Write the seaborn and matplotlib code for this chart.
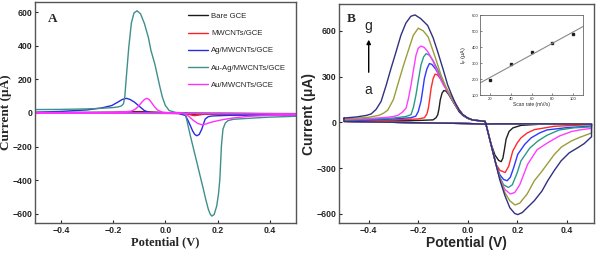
import numpy as np
import pandas as pd
import matplotlib.pyplot as plt
import seaborn as sns

sns.set_style("ticks")
plt.rcParams["font.family"] = ["Liberation Sans", "DejaVu Sans"]

# ---------------- panel A: CVs on the different electrodes ----------------
# each curve: sweep -0.5 -> 0.5 V, then back to -0.5 V
bare_E = [-0.5, -0.3, -0.2, -0.15, -0.12, -0.1, -0.08, -0.05, 0.0, 0.07, 0.09, 0.11, 0.12, 0.13, 0.15, 0.2, 0.3, 0.5,
          0.5, 0.2, 0.0, -0.2, -0.5, -0.5]
bare_I = [2, 3, 4, 5, 7, 8, 7, 5, 2, 0, -5, -10, -12, -10, -6, -4, -4, -6,
          -4, -3, -2, -1, 0, 2]

mwcnt_E = [-0.5, -0.3, -0.15, -0.1, -0.05, 0.0, 0.07, 0.09, 0.105, 0.115, 0.13, 0.16, 0.2, 0.3, 0.5,
           0.5, 0.2, 0.0, -0.2, -0.5, -0.5]
mwcnt_I = [-1, 0, 2, 4, 3, 1, -2, -8, -15, -16, -11, -7, -6, -6, -8,
           -5, -4, -3, -2, -2, -1]

ag_E = [-0.5, -0.4, -0.3, -0.243, -0.205, -0.18, -0.165, -0.149, -0.135, -0.118, -0.1, -0.08, -0.055, -0.03, 0.0,
        0.05, 0.077, 0.087, 0.096, 0.105, 0.113, 0.121, 0.13, 0.14, 0.147, 0.153, 0.165, 0.18, 0.25, 0.5,
        0.5, 0.2, 0.0, -0.2, -0.5, -0.5]
ag_I = [4, 9, 18, 30, 44, 66, 80, 87, 80, 64, 40, 14, 0, -2, -2,
        -3, -15, -45, -76, -108, -128, -136, -128, -96, -62, -36, -22, -18, -14, -13,
        -6, -4, -2, -1, 0, 4]

auag_E = [-0.5, -0.4, -0.3, -0.25, -0.2, -0.18, -0.168, -0.16, -0.155, -0.15, -0.14, -0.13, -0.12, -0.108,
          -0.095, -0.08, -0.065, -0.055, -0.04, -0.029, -0.02, -0.011, 0.0, 0.015, 0.04, 0.07,
          0.077, 0.085, 0.096, 0.11, 0.121, 0.135, 0.146, 0.155, 0.165, 0.172, 0.178, 0.187, 0.197,
          0.204, 0.209, 0.215, 0.221, 0.23, 0.24, 0.26, 0.32, 0.4, 0.5,
          0.5, 0.2, 0.0, -0.2, -0.5, -0.5]
auag_I = [20, 21, 24, 27, 32, 36, 42, 55, 100, 200, 390, 535, 595, 608,
          590, 532, 450, 372, 290, 213, 150, 93, 45, 14, 3, 0,
          -6, -60, -136, -225, -295, -385, -455, -515, -574, -602, -614, -605, -554,
          -480, -395, -196, -96, -60, -46, -38, -32, -25, -20,
          -5, -3, 0, 2, 3, 20]

au_E = [-0.5, -0.3, -0.2, -0.15, -0.13, -0.115, -0.105, -0.09, -0.08, -0.071, -0.062, -0.052, -0.042, -0.03,
        -0.011, 0.0, 0.05, 0.075, 0.09, 0.108, 0.125, 0.14, 0.155, 0.17, 0.184, 0.22, 0.26, 0.32, 0.4, 0.5,
        0.5, 0.2, 0.0, -0.2, -0.5, -0.5]
au_I = [0, 2, 4, 7, 11, 22, 36, 64, 80, 87, 80, 60, 38, 18,
        4, 2, 0, -5, -20, -45, -63, -70, -66, -58, -52, -40, -30, -20, -15, -12,
        -6, -4, -2, -2, -2, 0]

electrodes = ["Bare GCE", "MWCNTs/GCE", "Ag/MWCNTs/GCE", "Au-Ag/MWCNTs/GCE", "Au/MWCNTs/GCE"]
colors_A = ["#1a1a1a", "#ff2020", "#2a2ae0", "#3f8f8a", "#ff30ff"]

# ---------------- panel B: scan rates a..g ----------------
a_E = [-0.5, -0.3, -0.2, -0.14, -0.128, -0.121, -0.116, -0.111, -0.104, -0.097, -0.088, -0.078, -0.065, -0.05,
       -0.035, -0.02, 0.0, 0.02, 0.05, 0.07, 0.074, 0.094, 0.11, 0.125, 0.135, 0.142, 0.148, 0.155, 0.167,
       0.182, 0.215, 0.3, 0.5]
a_I = [8, 10, 12, 16, 30, 50, 90, 147, 190, 208, 205, 185, 150, 110,
       70, 45, 25, 15, 10, 6, -15, -140, -215, -250, -258, -235, -180, -110, -60,
       -37, -20, -12, -10]

b_E = [-0.5, -0.4, -0.3, -0.2, -0.175, -0.165, -0.159, -0.153, -0.148, -0.14, -0.132, -0.122, -0.11, -0.095,
       -0.08, -0.065, -0.05, -0.035, -0.02, 0.0, 0.02, 0.05, 0.07, 0.074, 0.094, 0.114, 0.13, 0.151, 0.165,
       0.182, 0.2, 0.215, 0.24, 0.269, 0.35, 0.5]
b_I = [10, 12, 15, 22, 30, 55, 93, 160, 223, 285, 316, 310, 285, 240,
       200, 165, 125, 85, 50, 28, 15, 10, 6, -15, -145, -275, -315, -329, -290,
       -188, -135, -102, -70, -48, -26, -15]

c_E = [-0.5, -0.4, -0.3, -0.23, -0.21, -0.2, -0.189, -0.182, -0.175, -0.165, -0.155, -0.145, -0.13, -0.11,
       -0.09, -0.075, -0.06, -0.04, -0.02, 0.0, 0.02, 0.05, 0.07, 0.074, 0.094, 0.114, 0.13, 0.145, 0.159,
       0.172, 0.185, 0.202, 0.23, 0.256, 0.29, 0.32, 0.4, 0.5]
c_I = [12, 16, 22, 30, 40, 70, 137, 210, 288, 350, 385, 380, 350, 290,
       230, 185, 140, 90, 50, 28, 15, 10, 6, -15, -145, -275, -345, -375, -383,
       -360, -300, -210, -145, -102, -70, -50, -35, -25]

d_E = [-0.5, -0.4, -0.3, -0.25, -0.229, -0.219, -0.209, -0.199, -0.189, -0.178, -0.168, -0.155, -0.14, -0.12,
       -0.1, -0.075, -0.06, -0.04, -0.02, 0.0, 0.02, 0.05, 0.07, 0.074, 0.094, 0.114, 0.13, 0.145, 0.164,
       0.18, 0.2, 0.215, 0.25, 0.283, 0.32, 0.37, 0.43, 0.5]
d_I = [15, 20, 28, 38, 50, 100, 180, 280, 375, 430, 450, 440, 405, 340,
       260, 185, 140, 90, 50, 28, 15, 10, 6, -15, -145, -275, -360, -410, -427,
       -410, -330, -253, -170, -123, -85, -50, -36, -30]

e_E = [-0.5, -0.4, -0.33, -0.3, -0.283, -0.265, -0.249, -0.239, -0.229, -0.219, -0.209, -0.2, -0.189, -0.175,
       -0.16, -0.14, -0.12, -0.1, -0.075, -0.06, -0.04, -0.02, 0.0, 0.02, 0.05, 0.07, 0.074, 0.094, 0.114,
       0.13, 0.15, 0.172, 0.19, 0.21, 0.242, 0.28, 0.323, 0.37, 0.42, 0.46, 0.5]
e_I = [18, 25, 32, 38, 45, 65, 93, 160, 245, 345, 440, 485, 500, 490,
       460, 400, 320, 250, 185, 140, 90, 50, 28, 15, 10, 6, -15, -145, -275,
       -370, -440, -470, -460, -410, -275, -180, -134, -90, -60, -48, -40]

f_E = [-0.5, -0.45, -0.4, -0.36, -0.34, -0.323, -0.3, -0.283, -0.262, -0.242, -0.22, -0.2, -0.18, -0.16,
       -0.148, -0.128, -0.108, -0.09, -0.075, -0.06, -0.04, -0.02, 0.0, 0.02, 0.05, 0.07, 0.074, 0.094, 0.114,
       0.13, 0.15, 0.17, 0.191, 0.21, 0.24, 0.269, 0.3, 0.35, 0.38, 0.418, 0.45, 0.5]
f_I = [22, 27, 33, 45, 60, 80, 150, 245, 360, 461, 570, 617, 600, 560,
       505, 410, 310, 240, 190, 145, 90, 50, 28, 15, 10, 6, -15, -145, -275,
       -370, -460, -515, -542, -530, -470, -383, -320, -210, -160, -123, -100, -70]

g_E = [-0.5, -0.45, -0.41, -0.39, -0.37, -0.35, -0.33, -0.31, -0.29, -0.27, -0.25, -0.23, -0.213, -0.19,
       -0.162, -0.14, -0.121, -0.1, -0.081, -0.065, -0.05, -0.035, -0.02, 0.0, 0.02, 0.05, 0.07, 0.074, 0.094,
       0.114, 0.13, 0.15, 0.17, 0.19, 0.202, 0.22, 0.24, 0.269, 0.3, 0.323, 0.35, 0.377, 0.41, 0.444, 0.47, 0.5]
g_I = [28, 35, 45, 55, 85, 137, 240, 353, 460, 570, 650, 695, 704, 680,
       635, 555, 461, 350, 245, 180, 125, 80, 50, 28, 15, 10, 6, -15, -145,
       -275, -380, -480, -560, -598, -605, -592, -560, -514, -450, -383, -315, -253, -200, -167, -140, -95]

# return sweep (0.5 -> -0.5 V), nearly flat for every scan rate
ret_E = [0.5, 0.3, 0.1, 0.07, 0.0, -0.2, -0.4, -0.5]
ret_I = [-12, -10, -10, -12, -8, -3, 3, 6]

scans = ["a", "b", "c", "d", "e", "f", "g"]
colors_B = ["#202020", "#ff2a2a", "#2a3aff", "#2a9a88", "#ff3cff", "#9c9c3a", "#303080"]

# inset: peak current vs scan rate
scan_rate = [20, 40, 60, 80, 100]
ip = [195, 295, 370, 428, 480]

# build long tables
rows = []
for name, E, I in zip(electrodes, [bare_E, mwcnt_E, ag_E, auag_E, au_E], [bare_I, mwcnt_I, ag_I, auag_I, au_I]):
    rows.append(pd.DataFrame({"E": E, "I": I, "curve": name}))
dfA = pd.concat(rows, ignore_index=True)

rows = []
for name, E, I in zip(scans, [a_E, b_E, c_E, d_E, e_E, f_E, g_E], [a_I, b_I, c_I, d_I, e_I, f_I, g_I]):
    E_loop = E + ret_E + [E[0]]
    I_loop = I + ret_I + [I[0]]
    rows.append(pd.DataFrame({"E": E_loop, "I": I_loop, "curve": name}))
dfB = pd.concat(rows, ignore_index=True)

fig = plt.figure(figsize=(6, 2.56), dpi=100)
axA = fig.add_axes([0.058, 0.129, 0.435, 0.863])
axB = fig.add_axes([0.565, 0.129, 0.425, 0.855])

tick_font = dict(family=["Liberation Sans", "DejaVu Sans"], weight="bold", size=6.3)

# --- A
sns.lineplot(data=dfA, x="E", y="I", hue="curve", palette=colors_A, sort=False, estimator=None,
             lw=1.0, ax=axA)
axA.set_xlim(-0.5, 0.5)
axA.set_ylim(-655, 660)
axA.set_xticks([-0.4, -0.2, 0.0, 0.2, 0.4])
axA.set_yticks([-600, -400, -200, 0, 200, 400, 600])
axA.set_xlabel("Potential (V)", family="Liberation Serif", weight="bold", size=9, labelpad=1)
axA.set_ylabel("Current (\u03bcA)", family="Liberation Serif", weight="bold", size=9.5)
axA.yaxis.set_label_coords(-0.088, 0.5)
axA.text(0.05, 0.95, "A", transform=axA.transAxes, family="Liberation Serif", weight="bold",
         size=9.5, va="top")
axA.legend(loc="upper left", bbox_to_anchor=(0.586, 0.952), frameon=False, fontsize=5.6,
           handlelength=2.6, handletextpad=0.4, labelspacing=1.25, borderpad=0, borderaxespad=0)

# --- B
sns.lineplot(data=dfB, x="E", y="I", hue="curve", palette=colors_B, sort=False, estimator=None,
             lw=1.0, ax=axB, legend=False)
axB.set_xlim(-0.52, 0.51)
axB.set_ylim(-660, 775)
axB.set_xticks([-0.4, -0.2, 0.0, 0.2, 0.4])
axB.set_yticks([-600, -300, 0, 300, 600])
axB.set_xlabel("Potential (V)", weight="bold", size=10, labelpad=1)
axB.set_ylabel("Current (\u03bcA)", weight="bold", size=10, labelpad=0)
axB.text(0.03, 0.96, "B", transform=axB.transAxes, family="Liberation Serif", weight="bold",
         size=9.5, va="top")
axB.text(-0.4, 634, "g", ha="center", va="center", size=10)
axB.text(-0.4, 212, "a", ha="center", va="center", size=10)
axB.annotate("", xy=(-0.4, 560), xytext=(-0.4, 310),
             arrowprops=dict(arrowstyle="-|>", color="black", lw=1.0, mutation_scale=6))

for ax in (axA, axB):
    for s in ax.spines.values():
        s.set_color("#555555")
        s.set_linewidth(1.0)
    ax.tick_params(direction="in", length=2.5, width=0.8, pad=2)
    for lab in ax.get_xticklabels() + ax.get_yticklabels():
        lab.set_fontproperties(tick_font)

# --- inset
axi = fig.add_axes([0.8, 0.627, 0.172, 0.314])
axi.set_xlim(10, 110)
sns.regplot(x=scan_rate, y=ip, ci=None, truncate=False, ax=axi, marker="s",
            scatter_kws=dict(s=3, color="black"), line_kws=dict(color="#888888", lw=0.8))
axi.set_xlim(10, 110)
axi.set_ylim(100, 600)
axi.set_xticks([20, 40, 60, 80, 100])
axi.set_yticks([100, 200, 300, 400, 500, 600])
axi.tick_params(direction="in", length=1.2, width=0.4, pad=1, labelsize=3)
axi.set_xlabel("Scan rate (mV/s)", size=3.5, labelpad=1)
axi.set_ylabel("I$_p$ (\u03bcA)", size=4, labelpad=1)
for s in axi.spines.values():
    s.set_color("#666666")
    s.set_linewidth(0.6)

fig.savefig("out.png", dpi=100)
